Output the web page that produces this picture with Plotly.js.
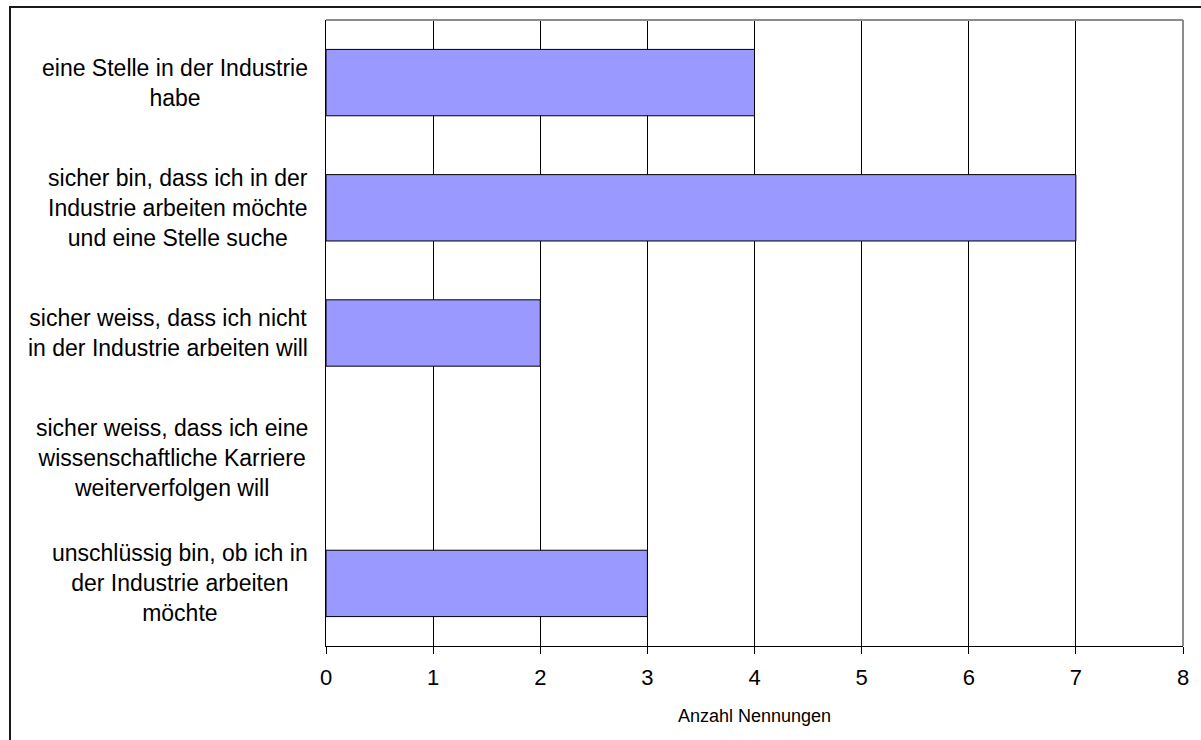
<!DOCTYPE html>
<html>
<head>
<meta charset="utf-8">
<script src="https://cdn.plot.ly/plotly-3.0.1.min.js"></script>
<style>
  html, body { margin: 0; padding: 0; background: #fff; overflow: hidden; }
  #chart { position: absolute; left: 0; top: 0; width: 1201px; height: 740px; }
  #frame { position: absolute; left: 9px; top: 6px; width: 1400px; height: 1000px;
           border-left: 2px solid #1a1a1a; border-top: 2px solid #1a1a1a; pointer-events: none; }
</style>
</head>
<body>
<div id="chart"></div>
<div id="frame"></div>
<script>
const categories = [
  "eine Stelle in der Industrie<br>habe",
  "sicher bin, dass ich in der<br>Industrie arbeiten möchte<br>und eine Stelle suche",
  "sicher weiss, dass ich nicht<br>in der Industrie arbeiten will",
  "sicher weiss, dass ich eine<br>wissenschaftliche Karriere<br>weiterverfolgen will",
  "unschlüssig bin, ob ich in<br>der Industrie arbeiten<br>möchte"
];
const counts = [4, 7, 2, 0, 3];
const xTickValues = [0, 1, 2, 3, 4, 5, 6, 7, 8];
const xAxisTitle = "Anzahl Nennungen";

const FONT = "Liberation Sans, Arial, sans-serif";

const trace = {
  type: "bar",
  orientation: "h",
  y: categories,
  x: counts,
  marker: {
    color: "#9999FF",
    line: { color: "#000000", width: counts.map(function (v) { return v > 0 ? 1 : 0; }) }
  },
  hoverinfo: "x+y"
};

const annotations = categories.map(function (c) {
  return {
    xref: "paper", yref: "y",
    x: 0, y: c,
    xanchor: "right", yanchor: "middle",
    xshift: -16,
    text: c,
    align: "center",
    showarrow: false,
    font: { family: FONT, size: 23, color: "#000" }
  };
});

const layout = {
  width: 1201,
  height: 740,
  margin: { l: 326, r: 18, t: 20, b: 94, pad: 0 },
  paper_bgcolor: "rgba(0,0,0,0)",
  plot_bgcolor: "#ffffff",
  showlegend: false,
  bargap: 0.47,
  font: { family: FONT, color: "#000" },
  xaxis: {
    range: [0, 8],
    tickvals: xTickValues,
    ticktext: xTickValues.map(String),
    ticks: "outside",
    ticklen: 7,
    tickwidth: 1,
    tickcolor: "#000",
    ticklabelstandoff: 5,
    showgrid: true,
    gridcolor: "#000",
    gridwidth: 1,
    zeroline: false,
    showline: true,
    linecolor: "#000",
    linewidth: 1,
    tickfont: { family: FONT, size: 22, color: "#000" },
    title: { text: xAxisTitle, font: { family: FONT, size: 18, color: "#000" }, standoff: 19 },
    fixedrange: true
  },
  yaxis: {
    type: "category",
    autorange: "reversed",
    showticklabels: false,
    ticks: "",
    showgrid: false,
    zeroline: false,
    showline: true,
    linecolor: "#000",
    linewidth: 1,
    fixedrange: true
  },
  annotations: annotations,
  shapes: [
    { type: "line", xref: "paper", yref: "paper", x0: 0, x1: 1, y0: 1, y1: 1,
      line: { color: "#8c8c8c", width: 2 }, layer: "above" },
    { type: "line", xref: "paper", yref: "paper", x0: 1, x1: 1, y0: 0, y1: 1,
      line: { color: "#8c8c8c", width: 2 }, layer: "above" }
  ]
};

Plotly.newPlot("chart", [trace], layout, { displayModeBar: false, staticPlot: true });
</script>
</body>
</html>
